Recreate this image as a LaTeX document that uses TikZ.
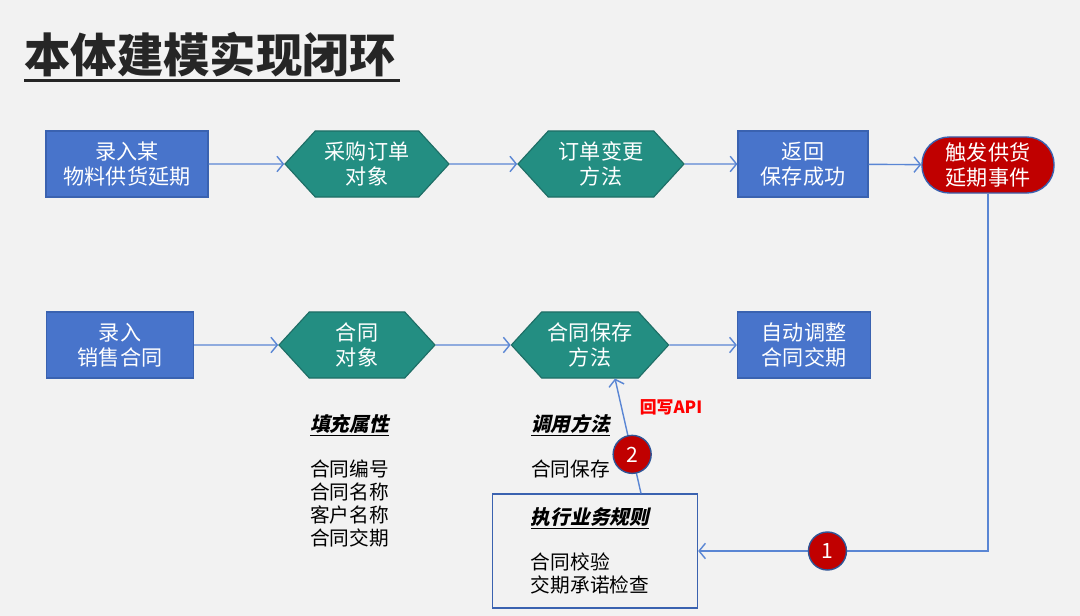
\documentclass[tikz,border=0pt]{standalone}
\usepackage{fontspec}
\setmainfont{Noto Sans CJK SC}
\newfontfamily\slantcjk{Noto Sans CJK SC}[FakeSlant=0.22]
\usepackage{tikz}
\usetikzlibrary{arrows.meta,calc,positioning,shapes.symbols}
\usepackage{xcolor}
\definecolor{bgpanel}{HTML}{F2F2F2}
\definecolor{titlegray}{HTML}{262626}
\definecolor{boxblue}{HTML}{4874CB}
\definecolor{boxedge}{HTML}{3A62B0}
\definecolor{hexteal}{HTML}{238E82}
\definecolor{hexedge}{HTML}{1E6E66}
\definecolor{flowblue}{HTML}{5A86D4}
\definecolor{dotred}{HTML}{C00000}
\definecolor{dotedge}{HTML}{2F5597}
\definecolor{apired}{HTML}{FF0000}
\newcommand{\notehead}[1]{\underline{{\slantcjk\bfseries #1}}}

\begin{document}
\begin{tikzpicture}[x=0.025cm, y=-0.025cm,
  every node/.style={font=\fontsize{15}{17.5}\selectfont},
  bluebox/.style={draw=boxedge, fill=boxblue, text=white, line width=0.8pt,
    align=center, minimum height=1.65cm, inner sep=2pt},
  hexbox/.style={signal, signal to=west and east, signal pointer angle=95,
    draw=hexedge, fill=hexteal, text=white, line width=0.8pt,
    align=center, minimum height=1.65cm, inner sep=2pt},
  eventbox/.style={draw=boxedge, fill=dotred, text=white, line width=1pt,
    rounded corners=0.68cm, align=center, minimum width=3.3cm, minimum height=1.4cm},
  rulebox/.style={draw=boxedge, line width=0.8pt, align=left, text width=3.2cm,
    minimum width=5.13cm, minimum height=2.85cm, inner sep=0pt,
    font=\fontsize{14}{16.5}\selectfont},
  numdot/.style={circle, draw=dotedge, fill=dotred, text=white, line width=1pt,
    minimum size=0.95cm, inner sep=0pt, font=\fontsize{15}{17}\selectfont},
  sidetext/.style={align=left, anchor=north west, inner sep=0pt,
    font=\fontsize{14}{16.5}\selectfont},
  flow/.style={draw=flowblue, line width=1pt, -{Straight Barb[length=4.5pt,width=11pt]}}]
  \fill[bgpanel] (0,0) rectangle (1080,616);
  \useasboundingbox (0,0) rectangle (1080,616);
  % title
  \node[anchor=west, inner sep=0pt, text=titlegray,
        font=\fontsize{33}{37}\bfseries] (title) at (24,55) {本体建模实现闭环};
  \draw[titlegray, line width=2.2pt] ([yshift=-2pt]title.south west) -- ([yshift=-2pt,xshift=3pt]title.south east);
  % top row: supply delay
  \node[bluebox, minimum width=4.05cm] (entry) at (127,164) {录入某\\物料供货延期};
  \node[hexbox, minimum width=4.1cm] (order) at (367,164) {采购订单\\对象};
  \node[hexbox, minimum width=4.15cm] (change) at (601,164) {订单变更\\方法};
  \node[bluebox, minimum width=3.25cm] (saved) at (803,164) {返回\\保存成功};
  \node[eventbox] (event) at (988,165) {触发供货\\延期事件};
  \draw[flow] (entry) -- (order);
  \draw[flow] (order) -- (change);
  \draw[flow] (change) -- (saved);
  \draw[flow] (saved) -- (event);
  % bottom row: sales contract
  \node[bluebox, minimum width=3.68cm] (sales) at (120,345) {录入\\销售合同};
  \node[hexbox, minimum width=3.9cm] (contract) at (357,345) {合同\\对象};
  \node[hexbox, minimum width=3.93cm] (save) at (590,345) {合同保存\\方法};
  \node[bluebox, minimum width=3.33cm] (adjust) at (804,345) {自动调整\\合同交期};
  \draw[flow] (sales) -- (contract);
  \draw[flow] (contract) -- (save);
  \draw[flow] (save) -- (adjust);
  % notes under the objects
  \node[sidetext] (attrs) at (310,414)
    {\notehead{填充属性}\\[15.5pt]合同编号\\合同名称\\客户名称\\合同交期};
  \node[sidetext] (calls) at (531,414)
    {\notehead{调用方法}\\[15.5pt]合同保存};
  \node[rulebox] (rules) at (595,551)
    {\notehead{执行业务规则}\\[15.5pt]合同校验\\交期承诺检查};
  % closing the loop
  \draw[flow] (event.south) |- (rules.east)
    node[numdot, pos=0.777] (one) {1};
  \draw[flow] ($(rules.north)+(46,0)$) -- ($(save.south)+(25,0)$)
    node[numdot, pos=0.34] (two) {2};
  \node[text=apired, font=\fontsize{12}{14}\bfseries] (api) at (671,407) {回写API};
\end{tikzpicture}
\end{document}
